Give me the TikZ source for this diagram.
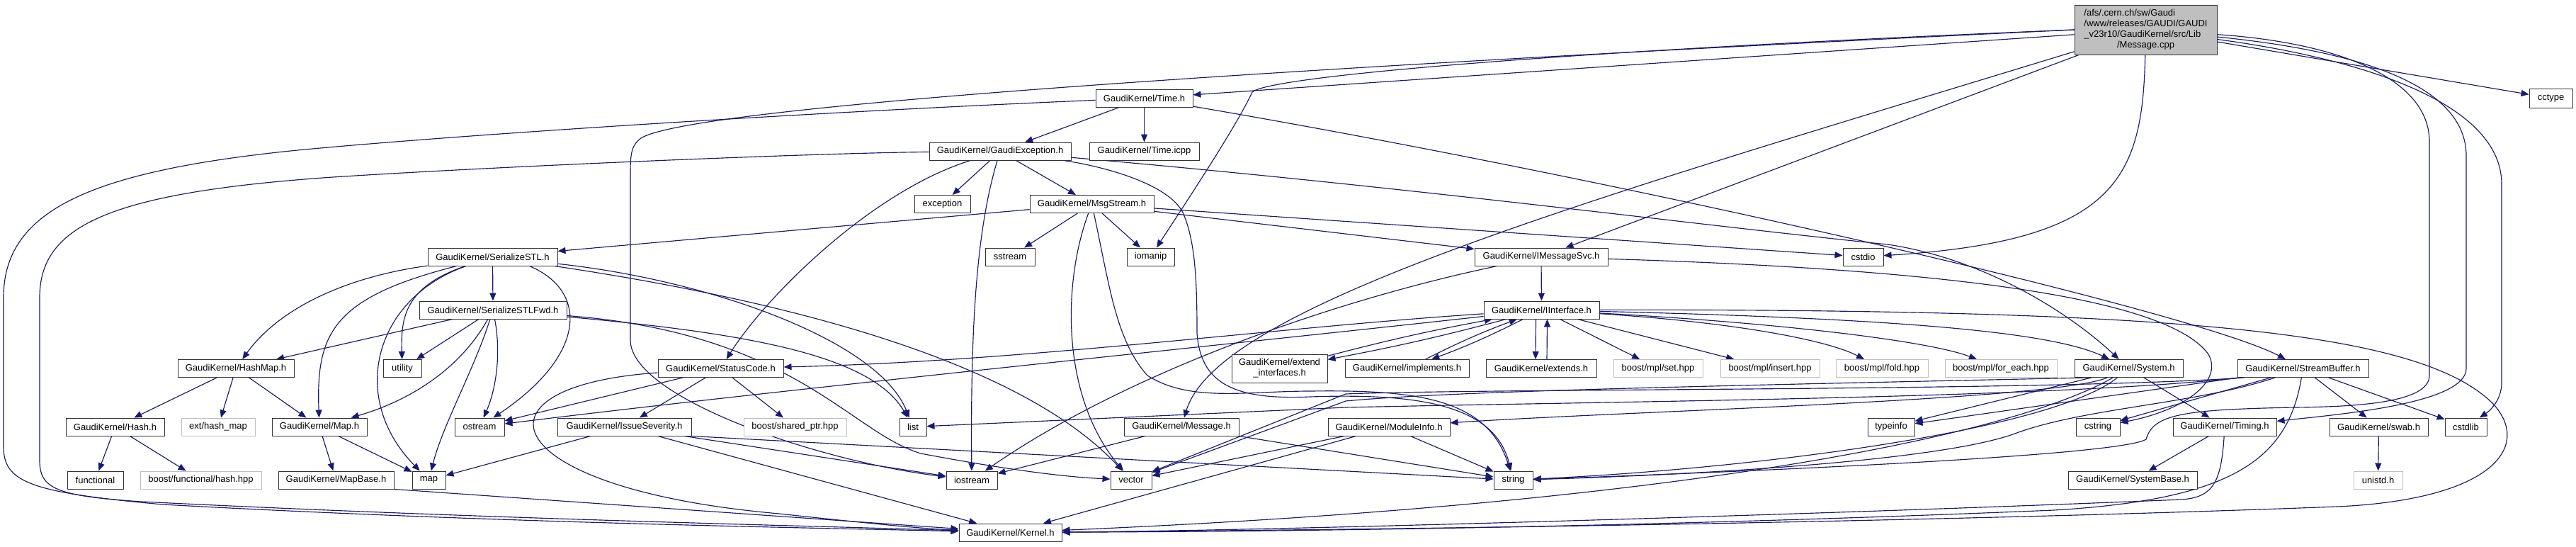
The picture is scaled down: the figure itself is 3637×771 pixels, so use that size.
\documentclass[tikz,border=0pt]{standalone}
\usepackage{fontspec}
\setmainfont{Liberation Sans}
\usetikzlibrary{arrows.meta}
\definecolor{edgec}{HTML}{191970}
\definecolor{greyb}{HTML}{BFBFBF}
\definecolor{boxb}{HTML}{333333}
\pgfdeclarelayer{bgl}
\pgfdeclarelayer{edges}
\pgfsetlayers{bgl,edges,main}
\tikzset{
  nb/.style={draw=boxb, line width=0.95pt, fill=white, inner sep=0pt, minimum height=25pt, text=black},
  ng/.style={nb, draw=greyb},
  edg/.style={draw=edgec, line width=1.15pt, -{Triangle[length=11pt,width=9pt]}},
}
\begin{document}
\begin{tikzpicture}[x=1pt,y=-1pt,font=\fontsize{13}{15}\selectfont]
\useasboundingbox (0,0) rectangle (3637,771);
\begin{pgfonlayer}{bgl}
\fill[white] (0,0) rectangle (3637,771);
\end{pgfonlayer}
% ---------------- nodes ----------------
\node[nb, fill=greyb, minimum width=201pt, minimum height=70pt] (root) at (3029.5,42) {\begin{tabular}{@{}l@{}}/afs/.cern.ch/sw/Gaudi\\/www/releases/GAUDI/GAUDI\\\_v23r10/GaudiKernel/src/Lib\\\multicolumn{1}{@{}c@{}}{/Message.cpp}\end{tabular}};
\node[nb, minimum width=137pt] (time) at (1615.5,138.5) {GaudiKernel/Time.h};
\node[nb, minimum width=61pt, minimum height=27pt] (cctype) at (3601.5,138.5) {cctype};
\node[nb, minimum width=200pt] (gexc) at (1412,213.5) {GaudiKernel/GaudiException.h};
\node[nb, minimum width=155pt] (ticpp) at (1615.5,213.5) {GaudiKernel/Time.icpp};
\node[nb, minimum width=79pt] (exc) at (1330.5,288) {exception};
\node[nb, minimum width=175pt] (msg) at (1541.5,288) {GaudiKernel/MsgStream.h};
\node[nb, minimum width=183pt] (sstl) at (695.5,362.5) {GaudiKernel/SerializeSTL.h};
\node[nb, minimum width=70pt] (sstream) at (1426,362.5) {sstream};
\node[nb, minimum width=67pt] (iomanip) at (1624.5,362.5) {iomanip};
\node[nb, minimum width=188pt] (imsg) at (2176,362.5) {GaudiKernel/IMessageSvc.h};
\node[nb, minimum width=57pt] (cstdio) at (2630.5,362.5) {cstdio};
\node[nb, minimum width=208pt] (sfwd) at (696,437.5) {GaudiKernel/SerializeSTLFwd.h};
\node[nb, minimum width=163pt] (iint) at (2176.5,437.5) {GaudiKernel/IInterface.h};
\node[nb, minimum width=164pt] (hashmap) at (333,520) {GaudiKernel/HashMap.h};
\node[nb, minimum width=54pt] (utility) at (568,520) {utility};
\node[nb, minimum width=177pt] (status) at (1017.5,520) {GaudiKernel/StatusCode.h};
\node[nb, minimum width=135pt, minimum height=40pt, align=center] (extint) at (1806.5,520) {GaudiKernel/extend\\\_interfaces.h};
\node[nb, minimum width=175pt] (impl) at (1986.5,520) {GaudiKernel/implements.h};
\node[nb, minimum width=156pt] (extends) at (2176,520) {GaudiKernel/extends.h};
\node[ng, minimum width=126pt] (mset) at (2341,520) {boost/mpl/set.hpp};
\node[ng, minimum width=140pt] (minsert) at (2499,520) {boost/mpl/insert.hpp};
\node[ng, minimum width=130pt] (mfold) at (2657,520) {boost/mpl/fold.hpp};
\node[ng, minimum width=158pt] (meach) at (2825,520) {boost/mpl/for\_each.hpp};
\node[nb, minimum width=153pt] (system) at (3005.5,520) {GaudiKernel/System.h};
\node[nb, minimum width=185pt] (sbuf) at (3251.5,520) {GaudiKernel/StreamBuffer.h};
\node[nb, minimum width=139pt] (hash) at (162.5,602.5) {GaudiKernel/Hash.h};
\node[ng, minimum width=104pt] (exthm) at (308,602.5) {ext/hash\_map};
\node[nb, minimum width=134pt] (maph) at (451,602.5) {GaudiKernel/Map.h};
\node[nb, minimum width=70pt] (ostream) at (677,602.5) {ostream};
\node[nb, minimum width=189pt] (issue) at (881.5,602.5) {GaudiKernel/IssueSeverity.h};
\node[ng, minimum width=145pt] (sptr) at (1122.5,602.5) {boost/shared\_ptr.hpp};
\node[nb, minimum width=38pt] (list) at (1289,602.5) {list};
\node[nb, minimum width=162pt] (message) at (1668,602.5) {GaudiKernel/Message.h};
\node[nb, minimum width=172pt] (modinfo) at (1961,602.5) {GaudiKernel/ModuleInfo.h};
\node[nb, minimum width=66pt] (typeinfo) at (2670,602.5) {typeinfo};
\node[nb, minimum width=62pt] (cstring) at (2962,602.5) {cstring};
\node[nb, minimum width=146pt] (timing) at (3141,602.5) {GaudiKernel/Timing.h};
\node[nb, minimum width=139pt] (swab) at (3358.5,602.5) {GaudiKernel/swab.h};
\node[nb, minimum width=59pt] (cstdlib) at (3481.5,602.5) {cstdlib};
\node[nb, minimum width=79pt] (functional) at (134.5,677.5) {functional};
\node[ng, minimum width=171pt] (bfhash) at (283.5,677.5) {boost/functional/hash.hpp};
\node[nb, minimum width=163pt] (mapbase) at (474.5,677.5) {GaudiKernel/MapBase.h};
\node[nb, minimum width=47pt] (map) at (605.5,677.5) {map};
\node[nb, minimum width=72pt] (iostream) at (1372,677.5) {iostream};
\node[nb, minimum width=58pt] (vector) at (1597,677.5) {vector};
\node[nb, minimum width=55pt] (string) at (2136.5,677.5) {string};
\node[nb, minimum width=182pt] (sysbase) at (3011,677.5) {GaudiKernel/SystemBase.h};
\node[ng, minimum width=69pt] (unistd) at (3357.5,677.5) {unistd.h};
\node[nb, minimum width=145pt] (kernel) at (1426.5,751.5) {GaudiKernel/Kernel.h};
% ---------------- edges ----------------
\begin{pgfonlayer}{edges}
% root
\draw[edg] (root) -- (time);
\draw[edg] (root.west) .. controls (2200,72) and (1790,108) .. (1768,130) .. controls (1745,180) and (1665,300) .. (iomanip);
\draw[edg] (root.west) .. controls (1500,110) and (960,160) .. (905,195) .. controls (890,206) and (890,220) .. (890,250) -- (890,480) .. controls (890,560) and (1150,650) .. (iostream);
\draw[edg] (root) -- (imsg);
\draw[edg] (root) .. controls (2250,280) and (1720,430) .. (message);
\draw[edg] (root) .. controls (3025,250) and (2990,340) .. (cstdio);
\draw[edg] (root) -- (cctype);
\draw[edg] (root) .. controls (3300,60) and (3430,110) .. (3430,200) -- (3430,530) .. controls (3430,568) and (3330,574) .. (3240,575) .. controls (3080,578) and (3040,585) .. (3030,620) .. controls (2990,645) and (2400,668) .. (string);
\draw[edg] (root) .. controls (3330,72) and (3482,120) .. (3482,220) -- (3482,520) .. controls (3482,570) and (3300,585) .. (timing);
\draw[edg] (root) .. controls (3350,85) and (3532,150) .. (3532,260) -- (3532,540) .. controls (3532,565) and (3515,580) .. (cstdlib);
% Time.h
\draw[edg] (time) .. controls (1150,158) and (650,190) .. (420,212) .. controls (120,242) and (5,300) .. (5,420) -- (5,630) .. controls (5,680) and (40,695) .. (230,712) .. controls (700,738) and (1150,745) .. (kernel);
\draw[edg] (time) -- (gexc);
\draw[edg] (time) -- (ticpp);
\draw[edg] (time) .. controls (2300,255) and (3100,440) .. (sbuf);
% GaudiException.h
\draw[edg] (gexc) .. controls (1150,216) and (700,235) .. (470,250) .. controls (150,272) and (56,320) .. (56,420) -- (56,650) .. controls (56,690) and (80,700) .. (200,708) .. controls (700,733) and (1150,742) .. (kernel);
\draw[edg] (gexc) .. controls (1230,270) and (1080,420) .. (status);
\draw[edg] (gexc) -- (exc);
\draw[edg] (gexc) .. controls (1380,320) and (1370,450) .. (iostream);
\draw[edg] (gexc) -- (msg);
\draw[edg] (gexc) .. controls (1560,235) and (1650,260) .. (1670,300) .. controls (1688,340) and (1690,400) .. (1690,470) .. controls (1695,540) and (1740,565) .. (1850,560) .. controls (2000,555) and (2110,570) .. (string);
\draw[edg] (gexc) .. controls (2000,265) and (2400,318) .. (2665,345) .. controls (2800,365) and (2920,440) .. (system);
% MsgStream.h
\draw[edg] (msg) -- (sstl);
\draw[edg] (msg) -- (sstream);
\draw[edg] (msg) .. controls (1500,400) and (1498,560) .. (vector);
\draw[edg] (msg) .. controls (1566,400) and (1575,480) .. (1620,530) .. controls (1680,568) and (1760,552) .. (1850,552) .. controls (2000,550) and (2100,562) .. (string);
\draw[edg] (msg) -- (iomanip);
\draw[edg] (msg) -- (imsg);
\draw[edg] (msg) -- (cstdio);
% SerializeSTL.h
\draw[edg] (sstl) -- (sfwd);
\draw[edg] (sstl) .. controls (480,392) and (390,440) .. (hashmap);
\draw[edg] (sstl) .. controls (470,420) and (446,470) .. (maph);
\draw[edg] (sstl) .. controls (530,420) and (490,560) .. (map);
\draw[edg] (sstl) .. controls (570,405) and (566,450) .. (utility);
\draw[edg] ([xshift=-40pt]sstl.south east) .. controls (830,410) and (830,500) .. (ostream);
\draw[edg] (sstl) .. controls (1000,395) and (1240,480) .. (list);
\draw[edg] (sstl) .. controls (1150,430) and (1450,520) .. (vector);
% SerializeSTLFwd.h
\draw[edg] (sfwd) -- (hashmap);
\draw[edg] (sfwd) -- (utility);
\draw[edg] (sfwd) .. controls (650,520) and (580,565) .. (maph);
\draw[edg] (sfwd) .. controls (670,520) and (625,600) .. (map);
\draw[edg] (sfwd) .. controls (708,500) and (700,550) .. (ostream);
\draw[edg] (sfwd) .. controls (1050,470) and (1230,500) .. (list);
\draw[edg] (sfwd) .. controls (1120,470) and (1200,610) .. (1300,640) .. controls (1380,655) and (1480,672) .. (vector);
% HashMap, Hash, Map, MapBase
\draw[edg] (hashmap) -- (hash);
\draw[edg] (hashmap) -- (exthm);
\draw[edg] (hashmap) -- (maph);
\draw[edg] (hash) -- (functional);
\draw[edg] (hash) -- (bfhash);
\draw[edg] (maph) -- (mapbase);
\draw[edg] (maph) -- (map);
\draw[edg] (mapbase.south east) -- (kernel);
% StatusCode.h
\draw[edg] (status) .. controls (650,545) and (700,690) .. (1100,725) .. controls (1220,738) and (1300,746) .. (kernel);
\draw[edg] (status) -- (ostream);
\draw[edg] (status) -- (issue);
\draw[edg] (status) -- (sptr);
% IssueSeverity.h
\draw[edg] (issue) -- (map);
\draw[edg] (issue.south east) -- (string);
\draw[edg] (issue) -- (iostream);
\draw[edg] (issue) -- (kernel);
% IMessageSvc.h
\draw[edg] (imsg) -- (iint);
\draw[edg] (imsg) .. controls (1900,420) and (1600,520) .. (iostream);
\draw[edg] (imsg) .. controls (2750,380) and (3060,420) .. (3118,500) .. controls (3140,540) and (3080,580) .. (cstring);
% IInterface.h
\draw[edg] (iint) .. controls (1800,462) and (1450,510) .. (status);
\draw[edg] (iint) .. controls (1700,490) and (1100,550) .. (ostream);
\draw[edg] (iint) to[bend left=2] (extint);
\draw[edg] (extint) to[bend left=2] (iint);
\draw[edg] (iint) to[bend left=3] (impl);
\draw[edg] (impl) to[bend left=3] (iint);
\draw[edg] ([xshift=-8pt]iint.south) -- ([xshift=-8pt]extends.north);
\draw[edg] ([xshift=8pt]extends.north) -- ([xshift=8pt]iint.south);
\draw[edg] (iint) -- (mset);
\draw[edg] (iint) -- (minsert);
\draw[edg] (iint) .. controls (2450,455) and (2580,480) .. (mfold);
\draw[edg] (iint) .. controls (2500,455) and (2720,480) .. (meach);
\draw[edg] (iint) .. controls (2700,450) and (2900,470) .. (system);
\draw[edg] (iint) .. controls (3100,436) and (3420,470) .. (3520,570) .. controls (3575,630) and (3520,705) .. (3300,715) .. controls (2700,738) and (1900,748) .. (kernel);
% Message.h, ModuleInfo.h
\draw[edg] (message) -- (iostream);
\draw[edg] (message) -- (string);
\draw[edg] (modinfo) -- (string);
\draw[edg] (modinfo) -- (kernel);
\draw[edg] (modinfo) -- (vector);
% System.h
\draw[edg] (system) .. controls (2900,565) and (2300,580) .. (modinfo);
\draw[edg] (system) -- (typeinfo);
\draw[edg] (system) .. controls (2900,605) and (2500,660) .. (string);
\draw[edg] ([xshift=20pt]system.south west) .. controls (2400,545) and (2050,552) .. (1900,566) -- (vector);
\draw[edg] (system) -- (timing);
\draw[edg] (system) .. controls (2850,610) and (2400,710) .. (kernel);
% StreamBuffer.h
\draw[edg] (sbuf) .. controls (3230,650) and (3150,705) .. (2900,720) .. controls (2300,745) and (1800,750) .. (kernel);
\draw[edg] (sbuf) -- (swab);
\draw[edg] (sbuf) -- (cstdlib);
\draw[edg] (sbuf) -- (cstring);
\draw[edg] (sbuf) -- (typeinfo);
\draw[edg] (sbuf) .. controls (3100,570) and (2950,575) .. (2850,610) .. controls (2750,650) and (2400,670) .. (string);
\draw[edg] ([xshift=10pt]sbuf.south west) .. controls (2900,552) and (2100,548) .. (1900,556) -- (vector);
\draw[edg] ([xshift=5pt]sbuf.south west) .. controls (2900,562) and (2300,566) .. (1900,575) -- (list);
% Timing.h, swab.h
\draw[edg] (timing) -- (sysbase);
\draw[edg] (timing) .. controls (3136,680) and (3125,702) .. (3080,705) .. controls (2600,725) and (1800,749) .. (kernel);
\draw[edg] (swab) -- (unistd);
\end{pgfonlayer}
\end{tikzpicture}
\end{document}
